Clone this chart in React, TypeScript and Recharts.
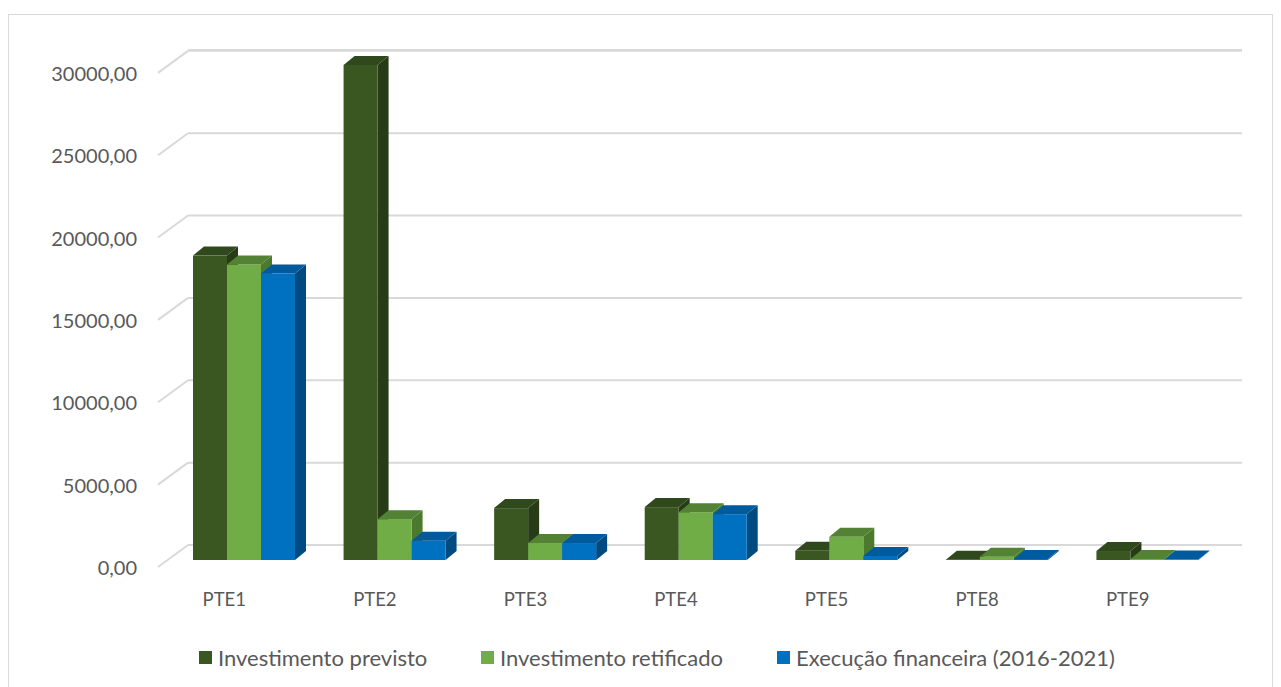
import React from 'react';
import { BarChart, Bar, XAxis, YAxis, CartesianGrid, Legend } from 'recharts';

const categories = ['PTE1', 'PTE2', 'PTE3', 'PTE4', 'PTE5', 'PTE8', 'PTE9'];
const investimentoPrevisto = [18480, 30050, 3150, 3210, 560, 20, 545];
const investimentoRetificado = [17940, 2480, 1030, 2900, 1410, 200, 60];
const execucaoFinanceira = [17390, 1170, 1030, 2780, 250, 60, 30];
const yTicks = [0, 5000, 10000, 15000, 20000, 25000, 30000];
const seriesNames = ['Investimento previsto', 'Investimento retificado', 'Execução financeira (2016-2021)'];

const data = categories.map((name, i) => ({
  name,
  previsto: investimentoPrevisto[i],
  retificado: investimentoRetificado[i],
  execucao: execucaoFinanceira[i],
}));

const FONT = 'Lato, "Open Sans", sans-serif';
const TEXT = '#595959';
const GRID = '#d9d9d9';
const W = 1263;
const H = 672;
const PLOT_LEFT = 179;

// perspective offsets
const BAR_SHIFT_X = -19;
const BAR_SHIFT_Y = 15;
const DEPTH_X = 11;
const DEPTH_Y = 9;
const FRONT_X = -30;
const FRONT_Y = 22;

const colors = [
  { front: '#3a5722', top: '#2f481c', side: '#263b16' },
  { front: '#70ad47', top: '#548235', side: '#4b7a2e' },
  { front: '#0070c0', top: '#005b9e', side: '#004a82' },
];

const make3D = (c: { front: string; top: string; side: string }) => (props: any) => {
  const { x, y, width, height } = props;
  if (x == null || y == null) return <g />;
  const X = x + BAR_SHIFT_X;
  const Y = y + BAR_SHIFT_Y;
  const B = Y + height;
  const w = width;
  const top = `${X},${Y} ${X + DEPTH_X},${Y - DEPTH_Y} ${X + w + DEPTH_X},${Y - DEPTH_Y} ${X + w},${Y}`;
  const side = `${X + w},${Y} ${X + w + DEPTH_X},${Y - DEPTH_Y} ${X + w + DEPTH_X},${B - DEPTH_Y} ${X + w},${B}`;
  return (
    <g>
      <polygon points={side} fill={c.side} />
      <rect x={X} y={Y} width={w} height={Math.max(height, 0)} fill={c.front} />
      <polygon points={top} fill={c.top} />
    </g>
  );
};

const YTick = (props: any) => {
  const { y, payload } = props;
  const label = Number(payload.value).toFixed(2).replace('.', ',');
  return (
    <g>
      <line x1={PLOT_LEFT + FRONT_X} y1={y + FRONT_Y} x2={PLOT_LEFT} y2={y} stroke={GRID} strokeWidth={2} />
      <text x={128} y={y + FRONT_Y} textAnchor="end" dominantBaseline="central" fill={TEXT} fontSize={20} fontFamily={FONT}>
        {label}
      </text>
    </g>
  );
};

const XTick = (props: any) => {
  const { x, payload } = props;
  return (
    <text x={x - 39} y={584} textAnchor="middle" dominantBaseline="central" fill={TEXT} fontSize={18.5} fontFamily={FONT}>
      {payload.value}
    </text>
  );
};

const legendLefts = [190, 472, 768];

const LegendContent = () => (
  <div style={{ position: 'relative', width: W, height: 24, fontFamily: FONT, fontSize: 22, color: TEXT }}>
    {seriesNames.map((n, i) => (
      <div
        key={n}
        style={{ position: 'absolute', left: legendLefts[i], top: 0, height: 24, display: 'flex', alignItems: 'center', whiteSpace: 'nowrap' }}
      >
        <span style={{ display: 'inline-block', width: 13, height: 13, background: colors[i].front, marginRight: 6 }} />
        <span>{n}</span>
      </div>
    ))}
  </div>
);

export default function App() {
  return (
    <div style={{ paddingTop: 6 }}>
      <div style={{ width: W, height: H, border: `1px solid ${GRID}`, background: '#fff', overflow: 'hidden' }}>
        <BarChart
          width={W}
          height={H}
          data={data}
          margin={{ top: 35, right: W - 1233, bottom: 58, left: PLOT_LEFT - 60 }}
          barCategoryGap={24}
          barGap={0}
        >
          <CartesianGrid horizontal vertical={false} stroke={GRID} strokeWidth={2} />
          <XAxis dataKey="name" axisLine={false} tickLine={false} height={60} tick={<XTick />} interval={0} />
          <YAxis
            domain={[0, 30000]}
            ticks={yTicks}
            width={60}
            axisLine={false}
            tickLine={false}
            tick={<YTick />}
            interval={0}
          />
          <Legend
            verticalAlign="bottom"
            wrapperStyle={{ top: 630, left: 0, width: W, height: 24 }}
            content={<LegendContent />}
          />
          <Bar dataKey="previsto" name={seriesNames[0]} fill={colors[0].front} shape={make3D(colors[0])} isAnimationActive={false} />
          <Bar dataKey="retificado" name={seriesNames[1]} fill={colors[1].front} shape={make3D(colors[1])} isAnimationActive={false} />
          <Bar dataKey="execucao" name={seriesNames[2]} fill={colors[2].front} shape={make3D(colors[2])} isAnimationActive={false} />
        </BarChart>
      </div>
    </div>
  );
}
